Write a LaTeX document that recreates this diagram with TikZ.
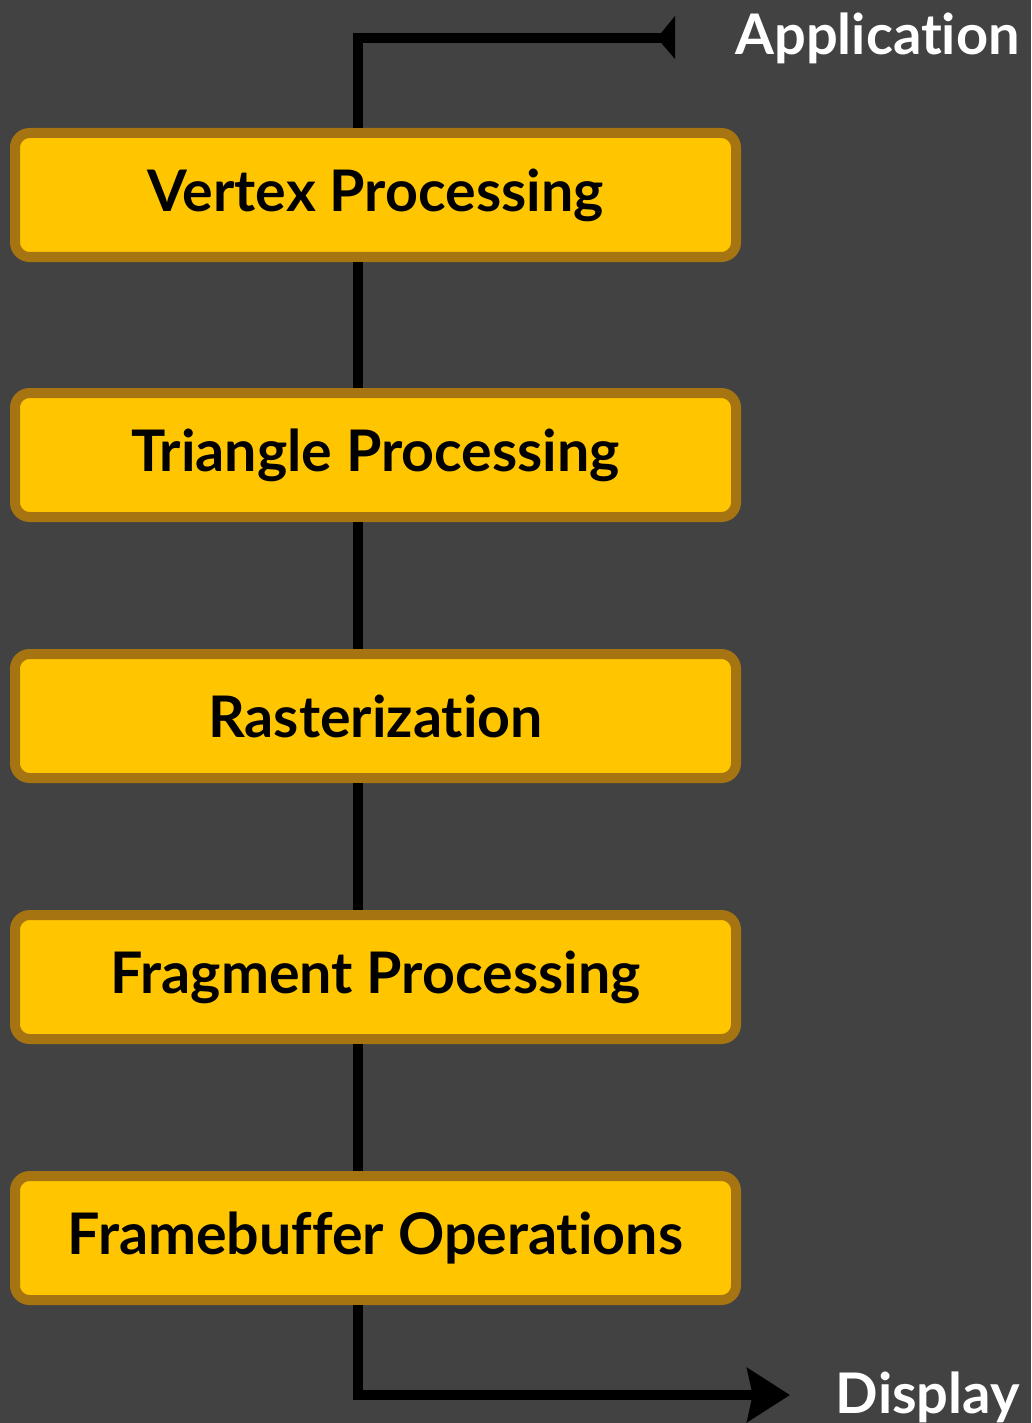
\documentclass[tikz,border=0pt]{standalone}
\usepackage{fontspec}
\setsansfont{Lato}[Ligatures=NoCommon]
\usetikzlibrary{arrows.meta}
\definecolor{bg}{RGB}{66,66,66}
\definecolor{boxfill}{RGB}{255,198,0}
\definecolor{boxedge}{RGB}{166,117,18}
\tikzset{
  stage/.style={draw=boxedge, fill=boxfill, line width=7.5pt, rounded corners=11pt,
    minimum width=540.75pt, minimum height=93pt, inner sep=0pt,
    font=\sffamily\bfseries\fontsize{43}{50}\selectfont, text=black},
  flow/.style={line width=7.5pt, draw=black},
  endlabel/.style={font=\sffamily\bfseries\fontsize{42}{50}\selectfont, text=white, inner sep=0pt}
}
\begin{document}
\begin{tikzpicture}[x=0.75pt,y=-0.75pt]
\fill[bg] (0,0) rectangle (1031,1423);
\useasboundingbox (0,0) rectangle (1031,1423);
\node[stage] (v) at (375.5,195) {Vertex Processing};
\node[stage] (t) at (375.5,455) {Triangle Processing};
\node[stage] (r) at (375.5,716) {Rasterization};
\node[stage] (f) at (375.5,977) {Fragment Processing};
\node[stage] (b) at (375.5,1238) {Framebuffer Operations};
\node[endlabel, anchor=base east] (app) at (1020,55) {Application};
\node[endlabel, anchor=base east] (disp) at (1020,1413) {Display};
\coordinate (tin) at (662,38);
\coordinate (dout) at (790,1395);
\draw[flow] (v.north -| 358,0) |- (tin);
\fill (675,16) -- (675,59) -- (657,38) -- cycle;
\draw[flow] (v.south -| 358,0) -- (t.north -| 358,0);
\draw[flow] (t.south -| 358,0) -- (r.north -| 358,0);
\draw[flow] (r.south -| 358,0) -- (f.north -| 358,0);
\draw[flow] (f.south -| 358,0) -- (b.north -| 358,0);
\draw[flow, -{Stealth[length=32pt, width=40pt, inset=4pt]}] (b.south -| 358,0) |- (dout);
\end{tikzpicture}
\end{document}
